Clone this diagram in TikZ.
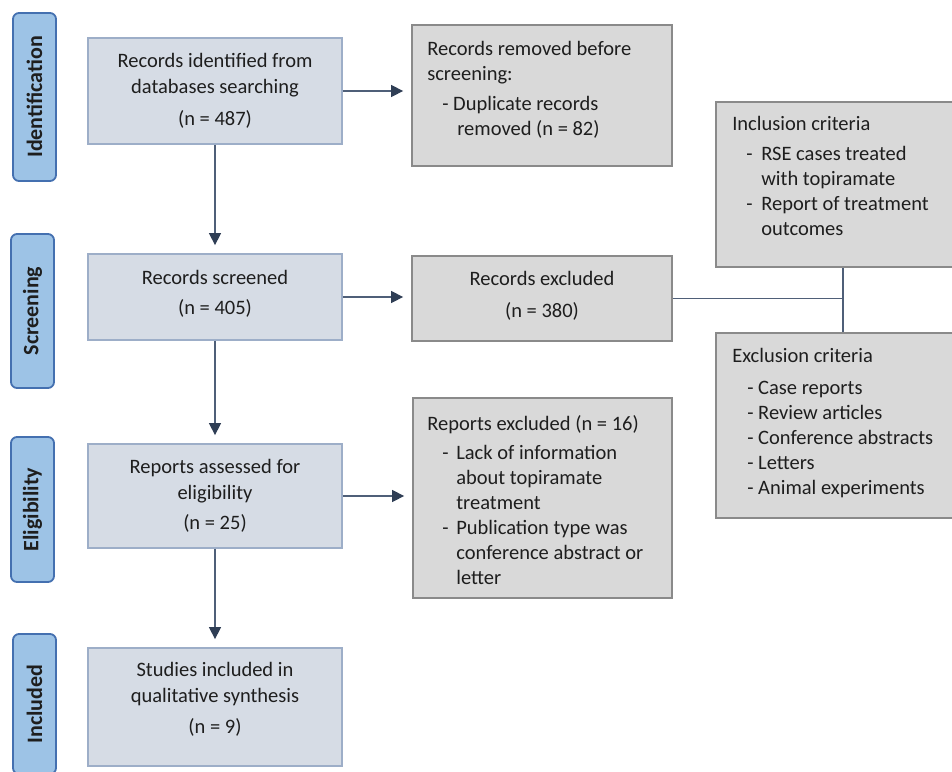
\documentclass[tikz,border=0pt]{standalone}
\usepackage{fontspec}
\setmainfont{Carlito}
\usetikzlibrary{arrows.meta,calc}
\definecolor{sidefill}{HTML}{9DC3E6}
\definecolor{sidedraw}{HTML}{4470B0}
\definecolor{mainfill}{HTML}{D6DCE5}
\definecolor{maindraw}{HTML}{9DAEC8}
\definecolor{greyfill}{HTML}{D9D9D9}
\definecolor{greydraw}{HTML}{8A8A8A}
\definecolor{linecol}{HTML}{4F5F78}
\definecolor{headcol}{HTML}{2F3E55}
\definecolor{txt}{HTML}{1E1E1E}
\newcommand\liftup[2]{\raisebox{#1}[\height][\depth]{\parbox{250pt}{\centering #2}}}
\begin{document}
\begin{tikzpicture}[x=1pt,y=-1pt,
  sidebox/.style={draw=sidedraw, fill=sidefill, line width=1.8pt, rounded corners=6pt,
    rotate=90, minimum height=43pt, inner sep=0pt, text=txt,
    font=\fontsize{22}{24}\selectfont\bfseries},
  mainbox/.style={draw=maindraw, fill=mainfill, line width=1.8pt, minimum width=254pt,
    inner sep=0pt, align=center, text=txt, font=\fontsize{20.5}{26}\selectfont},
  greybox/.style={draw=greydraw, fill=greyfill, line width=1.8pt, inner sep=0pt},
  greytext/.style={anchor=north west, inner sep=0pt, align=left, text=txt,
    font=\fontsize{20.5}{25}\selectfont},
  flow/.style={draw=linecol, line width=1.4pt, -{Triangle[length=12pt,width=12pt,color=headcol]}, shorten >=8pt},
  joinline/.style={draw=linecol, line width=1.2pt}
]
\useasboundingbox (0,0) rectangle (952,771);
\clip (0,0) rectangle (952,771);
\fill[white] (0,0) rectangle (952,771);

% side labels
\node[sidebox, minimum width=168pt] (sId) at (34.5,97) {Identification};
\node[sidebox, minimum width=154pt] (sSc) at (32.5,311) {Screening};
\node[sidebox, minimum width=145pt] (sEl) at (32.5,509.5) {Eligibility};
\node[sidebox, minimum width=140pt] (sIn) at (34.5,704) {Included};

% main boxes
\node[mainbox, minimum height=106pt] (b1) at (215,91)
  {Records identified from\\databases searching\\[6pt](n = 487)};
\node[mainbox, minimum height=86pt] (b2) at (215,297)
  {\liftup{3pt}{Records screened\\[4pt](n = 405)}};
\node[mainbox, minimum height=104pt] (b3) at (215,496)
  {Reports assessed for\\eligibility\\[4pt](n = 25)};
\node[mainbox, minimum height=118pt] (b4) at (215,707)
  {\liftup{8pt}{Studies included in\\qualitative synthesis\\[5pt](n = 9)}};

% grey boxes
\node[greybox, minimum width=260pt, minimum height=141pt] (rem) at (542,95.5) {};
\node[greybox, minimum width=260pt, minimum height=85pt, align=center, text=txt,
  font=\fontsize{20.5}{26}\selectfont] (exc) at (542,298.5)
  {\liftup{3pt}{Records excluded\\[6pt](n = 380)}};
\node[greybox, minimum width=259pt, minimum height=200pt] (rep) at (542.5,498) {};
\node[greybox, minimum width=254pt, minimum height=165pt] (inc) at (843,184.5) {};
\node[greybox, minimum width=254pt, minimum height=185pt] (exl) at (843,425.5) {};

% grey box texts
\node[greytext] (tRem) at ([shift={(16pt,-16.5pt)}]rem.north west)
  {Records removed before\\screening:\\[5pt]\hspace*{15pt}- Duplicate records\\\hspace*{30pt}removed (n = 82)};
\node[greytext] (tRep) at ([shift={(15pt,-18.5pt)}]rep.north west)
  {Reports excluded (n = 16)\\[4pt]%
   \hspace*{15pt}\makebox[14pt][l]{-}Lack of information\\%
   \hspace*{29pt}about topiramate\\%
   \hspace*{29pt}treatment\\%
   \hspace*{15pt}\makebox[14pt][l]{-}Publication type was\\%
   \hspace*{29pt}conference abstract or\\%
   \hspace*{29pt}letter};
\node[greytext] (tInc) at ([shift={(17pt,-14.5pt)}]inc.north west)
  {Inclusion criteria\\[5pt]%
   \hspace*{14pt}\makebox[15pt][l]{-}RSE cases treated\\%
   \hspace*{29pt}with topiramate\\%
   \hspace*{14pt}\makebox[15pt][l]{-}Report of treatment\\%
   \hspace*{29pt}outcomes};
\node[greytext] (tExl) at ([shift={(17pt,-15.5pt)}]exl.north west)
  {Exclusion criteria\\[7pt]%
   \hspace*{15pt}- Case reports\\%
   \hspace*{15pt}- Review articles\\%
   \hspace*{15pt}- Conference abstracts\\%
   \hspace*{15pt}- Letters\\%
   \hspace*{15pt}- Animal experiments};

% connectors
\draw[flow] (b1.south) -- (b2.north);
\draw[flow] (b2.south) -- (b3.north);
\draw[flow] (b3.south) -- (b4.north);
\draw[flow] (b1.east) -- (b1.east -| rem.west);
\draw[flow] (b2.east) -- (b2.east -| exc.west);
\draw[flow] (b3.east) -- (b3.east -| rep.west);
\draw[joinline] (inc.south) -- (exl.north);
\coordinate (jn) at (exc.east -| inc.south);
\draw[joinline] (exc.east) -- (jn);
\end{tikzpicture}
\end{document}
